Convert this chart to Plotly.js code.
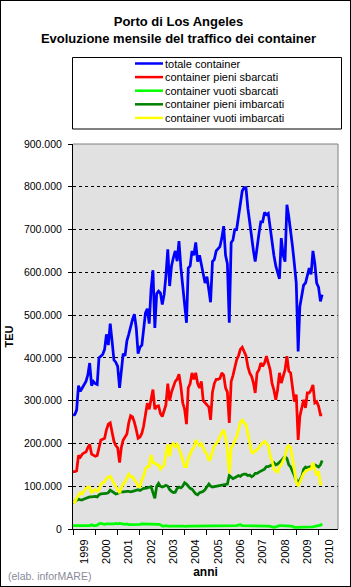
<!DOCTYPE html>
<html><head><meta charset="utf-8">
<script src="https://cdn.plot.ly/plotly-3.0.1.min.js"></script>
<style>
html,body{margin:0;padding:0;background:#fff;}
#wrap{position:relative;width:351px;height:587px;}
#chart{position:absolute;left:0;top:0;width:351px;height:587px;}
#frame{position:absolute;left:0;top:0;width:351px;height:587px;box-sizing:border-box;border:1px solid #000;pointer-events:none;}
</style>
</head><body>
<div id="wrap"><div id="chart"></div><div id="frame"></div></div>
<script>
// ---- DATA (monthly TEU, Jan 1999 onwards) ----
const startYear = 1999;
const seriesNames = ["totale container","container pieni sbarcati","container vuoti sbarcati","container pieni imbarcati","container vuoti imbarcati"];
const seriesColors = ["#0000FF","#FF0000","#00FF00","#008000","#FFFF00"];
const yearLabels = ["1999","2000","2001","2002","2003","2004","2005","2006","2007","2008","2009","2010"];

const totale = [
266000,268000,278000,335000,322000,330000,335000,345000,360000,388000,
335000,345000,340000,338000,400000,405000,408000,420000,455000,430000,
480000,440000,395000,390000,380000,330000,370000,410000,405000,440000,
455000,475000,490000,502000,470000,410000,425000,430000,470000,505000,
515000,480000,560000,605000,470000,550000,556000,552000,525000,549000,
592000,654000,568000,615000,634000,650000,626000,673000,611000,564000,
520000,482000,610000,615000,650000,640000,670000,625000,640000,620000,
600000,575000,590000,560000,530000,625000,630000,650000,655000,660000,
680000,708000,640000,620000,482000,670000,675000,700000,700000,728000,
763000,790000,798000,798000,750000,715000,685000,650000,625000,665000,
690000,718000,718000,740000,735000,738000,700000,665000,640000,615000,
600000,585000,680000,640000,625000,758000,730000,700000,660000,620000,
575000,415000,520000,545000,570000,575000,595000,610000,595000,650000,
620000,575000,565000,532000,548000];

const pieniSbarcati = [
134000,134000,136000,172000,168000,175000,178000,180000,190000,198000,
175000,172000,170000,172000,190000,208000,210000,212000,232000,245000,
248000,225000,205000,195000,190000,155000,190000,208000,214000,222000,
248000,265000,262000,250000,232000,212000,215000,224000,240000,271000,
294000,280000,300000,326000,280000,287000,288000,270000,263000,280000,
290000,340000,300000,320000,335000,345000,350000,362000,333000,295000,
280000,245000,330000,340000,365000,350000,365000,340000,330000,345000,
300000,295000,290000,285000,255000,320000,340000,350000,350000,352000,
365000,360000,330000,320000,248000,345000,358000,375000,395000,405000,
420000,425000,415000,405000,380000,365000,357000,341000,318000,365000,
372000,388000,380000,388000,404000,388000,372000,341000,325000,302000,
325000,365000,341000,357000,372000,404000,369000,365000,333000,298000,
314000,208000,263000,283000,302000,283000,318000,318000,325000,337000,
295000,298000,287000,267000,267000];

const vuotiSbarcati = [
8000,8000,7000,8000,8000,7000,8000,8000,8000,8000,
10000,8000,8000,9000,12000,13000,12000,11000,12000,12000,
11000,12000,12000,13000,12000,13000,12000,12000,11000,12000,
10000,10000,10000,11000,10000,10000,11000,12000,12000,11000,
12000,12000,12000,11000,12000,12000,11000,10000,7000,7000,
8000,7000,7000,7000,7000,8000,7000,7000,7000,7000,
6000,7000,7000,7000,7000,7000,7000,7000,8000,7000,
7000,7000,8000,8000,7000,8000,8000,7000,7000,8000,
8000,7000,7000,7000,8000,7000,7000,8000,8000,9000,
10000,8000,8000,7000,7000,7000,8000,8000,7000,7000,
8000,8000,8000,7000,7000,7000,6000,5000,4000,5000,
7000,8000,8000,8000,8000,8000,8000,7000,6000,4000,
4000,4000,4000,4000,4000,4000,4000,4000,4000,5000,
6000,7000,8000,9000,12000];

const pieniImbarcati = [
62000,65000,68000,70000,68000,68000,70000,72000,74000,75000,
75000,76000,76000,75000,80000,82000,82000,82000,83000,85000,
91000,88000,84000,82000,83000,85000,87000,87000,88000,88000,
88000,87000,88000,89000,90000,92000,90000,93000,95000,95000,
96000,97000,99000,85000,72000,100000,107000,100000,98000,100000,
102000,100000,92000,88000,85000,86000,95000,98000,96000,100000,
108000,105000,100000,95000,93000,88000,82000,80000,85000,86000,
88000,92000,100000,105000,100000,98000,99000,100000,100000,102000,
103000,104000,104000,105000,125000,120000,118000,120000,122000,125000,
123000,127000,128000,128000,125000,126000,122000,125000,130000,130000,
133000,135000,138000,140000,146000,146000,148000,150000,155000,150000,
152000,155000,160000,165000,170000,165000,150000,145000,135000,125000,
112000,105000,115000,122000,140000,145000,142000,145000,145000,150000,
150000,148000,145000,150000,160000];

const vuotiImbarcati = [
65000,62000,72000,80000,85000,82000,90000,95000,99000,98000,
84000,90000,92000,88000,92000,105000,108000,110000,118000,122000,
123000,115000,105000,100000,92000,84000,95000,105000,110000,120000,
128000,123000,122000,115000,110000,100000,99000,115000,123000,140000,
146000,146000,173000,155000,154000,150000,150000,140000,146000,150000,
175000,198000,170000,195000,200000,193000,200000,185000,175000,162000,
146000,146000,165000,175000,185000,190000,208000,200000,195000,200000,
190000,180000,175000,160000,165000,180000,195000,200000,205000,216000,
225000,232000,215000,185000,130000,190000,195000,205000,216000,232000,
250000,255000,248000,245000,225000,205000,180000,178000,183000,185000,
190000,198000,200000,205000,200000,195000,170000,160000,140000,135000,
133000,145000,150000,160000,170000,190000,195000,190000,165000,145000,
110000,100000,110000,118000,130000,135000,138000,140000,140000,155000,
140000,125000,135000,105000,105000];

const allSeries = [totale, pieniSbarcati, vuotiSbarcati, pieniImbarcati, vuotiImbarcati];

// month categories
const months = totale.map((_, i) => {
  const y = startYear + Math.floor(i / 12);
  const m = (i % 12) + 1;
  return y + '-' + (m < 10 ? '0' + m : m) + '-01';
});

// ---- LAYOUT GEOMETRY ----
const W = 351, H = 587;
const L = 73, R = 338, T = 144, B = 529;
const px = x => (x - L) / (R - L);
const py = y => (B - y) / (B - T);
const FONT = 'Liberation Sans, Arial, sans-serif';

const traces = allSeries.map((s, i) => ({
  type: 'scatter', mode: 'lines', x: months, y: s, name: seriesNames[i],
  line: {color: seriesColors[i], width: 2.75}, hoverinfo: 'skip'
}));

const shapes = [
  {type:'line', xref:'paper', yref:'paper', x0:0, x1:1, y0:1, y1:1, line:{color:'#808080', width:1}, layer:'above'},
  {type:'line', xref:'paper', yref:'paper', x0:1, x1:1, y0:0, y1:1, line:{color:'#808080', width:1}, layer:'above'},
  {type:'rect', xref:'paper', yref:'paper', x0:px(72.5), x1:px(341.5), y0:py(129), y1:py(57.5), line:{color:'#000', width:1}, fillcolor:'#fff', layer:'above'}
];
const annotations = [];
seriesNames.forEach((n, i) => {
  const yc = 63.5 + 13.6 * i;
  shapes.push({type:'line', xref:'paper', yref:'paper', x0:px(135), x1:px(163), y0:py(yc), y1:py(yc), line:{color:seriesColors[i], width:2.5}, layer:'above'});
  annotations.push({xref:'paper', yref:'paper', x:px(163), y:py(yc), xanchor:'left', yanchor:'middle', text:n, showarrow:false, font:{family:FONT, size:11, color:'#000'}});
});
annotations.push({xref:'paper', yref:'paper', x:px(6), y:py(576), xanchor:'left', yanchor:'middle', text:'(elab. inforMARE)', showarrow:false, font:{family:FONT, size:10.5, color:'#8a8a9a'}});

const layout = {
  width: W, height: H,
  margin: {l: L, r: W - R, t: T, b: H - B, pad: 0},
  paper_bgcolor: '#ffffff', plot_bgcolor: '#e1e1e1',
  separators: ',.',
  showlegend: false,
  title: {text: '<b>Porto di Los Angeles<br>Evoluzione mensile del traffico dei container</b>',
          font: {family: FONT, size: 13, color: '#000'},
          xref: 'container', x: 178.5 / W, xanchor: 'center',
          yref: 'container', y: 1 - 26 / H, yanchor: 'top'},
  xaxis: {
    type: 'date', range: ['1999-01-01', '2010-11-15'],
    tick0: '1999-01-01', dtick: 'M12', tickformat: '%Y', ticklabelmode: 'period',
    tickangle: -90, ticks: 'outside', ticklen: 5, tickcolor: '#000',
    showline: true, linecolor: '#000', linewidth: 1, showgrid: false, zeroline: false,
    tickfont: {family: FONT, size: 11, color: '#000'},
    title: {text: '<b>anni</b>', font: {family: FONT, size: 12, color: '#000'}, standoff: 4},
    automargin: false
  },
  yaxis: {
    range: [0, 900000], dtick: 100000, tick0: 0, tickformat: ',d',
    ticks: 'outside', ticklen: 4, tickcolor: '#000',
    showline: true, linecolor: '#000', linewidth: 1,
    showgrid: true, gridcolor: '#000', gridwidth: 1, griddash: '3px,3px', zeroline: false,
    tickfont: {family: FONT, size: 10.5, color: '#000'},
    ticklabelstandoff: 4,
    title: {text: '<b>TEU</b>', font: {family: FONT, size: 11, color: '#000'}, standoff: 8},
    automargin: false
  },
  shapes: shapes,
  annotations: annotations
};

Plotly.newPlot('chart', traces, layout, {staticPlot: true, displayModeBar: false});
</script>
</body></html>
